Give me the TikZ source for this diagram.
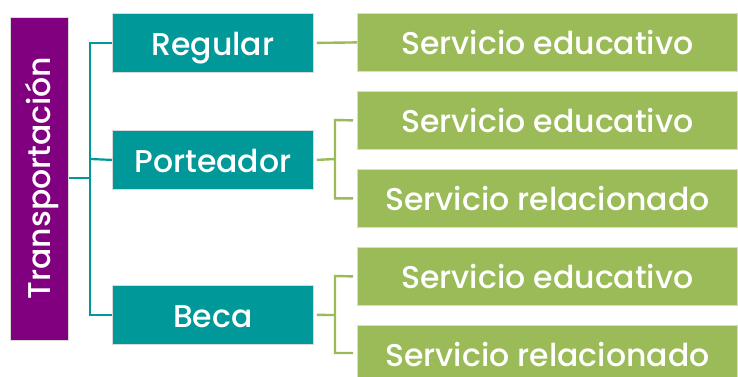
\documentclass[tikz,border=0pt]{standalone}
\usepackage{fontspec}
\setmainfont{Poppins Medium}
\definecolor{purp}{RGB}{128,0,128}
\definecolor{teal}{RGB}{0,152,152}
\definecolor{grn}{RGB}{155,187,89}
\begin{document}
\begin{tikzpicture}[x=1pt,y=-1pt,
  box/.style={draw=white!85!black,line width=0.8pt,inner sep=0pt,text=white,font=\fontsize{31.5}{36}\selectfont,text height=25pt,text depth=0pt},
  tbox/.style={box,fill=teal,minimum width=201pt,minimum height=59pt},
  gbox/.style={box,fill=grn,minimum width=380pt,minimum height=58pt},
  tline/.style={draw=teal,line width=2.2pt},
  gline/.style={draw=grn,line width=2.4pt}]
\useasboundingbox (0,0) rectangle (738,377);
\node[box,fill=purp,minimum width=58pt,minimum height=323pt,anchor=north west] (root) at (10,17) {};
\node[rotate=90,text=white,inner sep=0pt,font=\fontsize{31.5}{36}\selectfont,text height=22pt,text depth=0pt] (roottxt) at (39,178) {Transportación};
\node[tbox,anchor=north west] (reg) at (112,13) {Regular};
\node[tbox,anchor=north west] (por) at (112,130) {Porteador};
\node[tbox,anchor=north west] (bec) at (112,285) {Beca};
\node[gbox,anchor=north west] (g1) at (357,13) {Servicio educativo};
\node[gbox,anchor=north west] (g2) at (357,91) {Servicio educativo};
\node[gbox,anchor=north west] (g3) at (357,169) {Servicio relacionado};
\node[gbox,anchor=north west] (g4) at (357,247) {Servicio educativo};
\node[gbox,anchor=north west] (g5) at (357,325) {Servicio relacionado};
\coordinate (tj) at (90,178);
\draw[tline] (root.east |- tj) -- (tj);
\draw[tline] (reg.west) -- ++(-22,0) |- (bec.west);
\draw[tline] (90,159) -- (por.west);
% green
\draw[gline] ([xshift=3pt]reg.east) -- (g1.west);
\draw[gline] ([xshift=3pt]por.east) -- (335,159);
\draw[gline] ([xshift=-4pt]g2.west) -- (335,120) |- ([xshift=-4pt]g3.west);
\draw[gline] ([xshift=3pt]bec.east) -- (335,315);
\draw[gline] ([xshift=-4pt]g4.west) -- (335,276) |- ([xshift=-4pt]g5.west |- 0,353);
\end{tikzpicture}
\end{document}
